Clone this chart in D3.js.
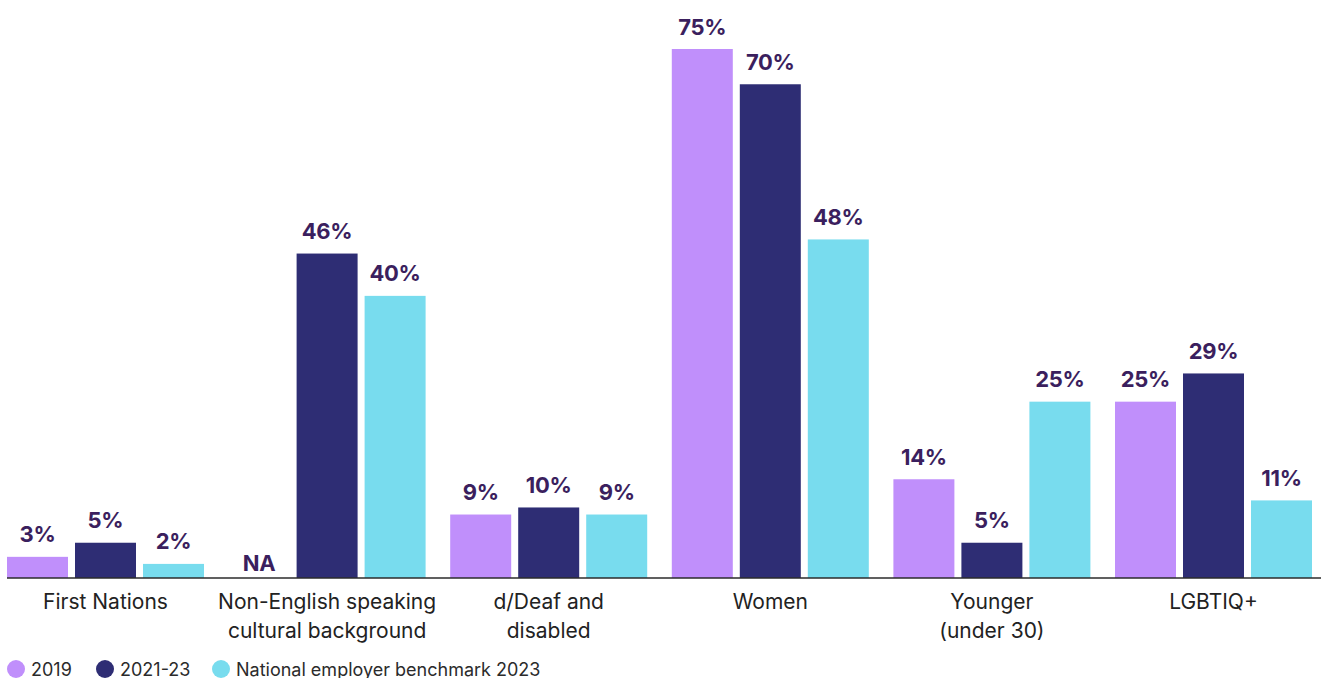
<!DOCTYPE html>
<html>
<head>
<meta charset="utf-8">
<script src="https://cdn.jsdelivr.net/npm/d3@7"></script>
<style>
  html, body { margin: 0; padding: 0; background: #fff; }
  svg { display: block; font-family: "Inter", "Lato", sans-serif; }
</style>
</head>
<body>
<svg id="chart" width="1321" height="678"></svg>
<script>
// Workforce diversity by group: share (%) per period
const categories = [
  ["First Nations"],
  ["Non-English speaking", "cultural background"],
  ["d/Deaf and", "disabled"],
  ["Women"],
  ["Younger", "(under 30)"],
  ["LGBTIQ+"]
];
const seriesNames = ["2019", "2021-23", "National employer benchmark 2023"];
const values2019 = [3, null, 9, 75, 14, 25];
const values2021 = [5, 46, 10, 70, 5, 29];
const valuesBenchmark = [2, 40, 9, 48, 25, 11];
const colors = ["#c08ffb", "#2e2d74", "#78dcee"];

const seriesValues = [values2019, values2021, valuesBenchmark];
const rows = categories.map((c, i) => ({
  key: c.join(" "),
  lines: c,
  vals: seriesValues.map((s, j) => ({ series: j, value: s[i] }))
}));

const svg = d3.select("#chart");
const baseline = 578;

const x0 = d3.scaleBand()
  .domain(rows.map(r => r.key))
  .range([7, 1312])
  .paddingInner(0.111)
  .paddingOuter(0);

const x1 = d3.scaleBand()
  .domain(d3.range(seriesNames.length))
  .range([0, x0.bandwidth()])
  .paddingInner(0.103)
  .paddingOuter(0);

const y = d3.scaleLinear().domain([0, 75]).range([baseline, 49]);

const groups = svg.append("g").selectAll("g")
  .data(rows)
  .join("g")
  .attr("transform", d => `translate(${x0(d.key)},0)`);

// Bars
groups.selectAll("rect")
  .data(d => d.vals.filter(v => v.value != null))
  .join("rect")
  .attr("x", v => x1(v.series))
  .attr("width", x1.bandwidth())
  .attr("y", v => y(v.value))
  .attr("height", v => baseline - y(v.value))
  .attr("fill", v => colors[v.series]);

// Value labels
groups.selectAll("text.val")
  .data(d => d.vals)
  .join("text")
  .attr("class", "val")
  .attr("x", v => x1(v.series) + x1.bandwidth() / 2)
  .attr("y", v => v.value == null ? baseline - 7 : y(v.value) - 14.5)
  .attr("text-anchor", "middle")
  .attr("font-size", 22)
  .attr("font-weight", 700)
  .attr("letter-spacing", "-0.3")
  .attr("fill", "#3b1f5e")
  .text(v => v.value == null ? "NA" : v.value + "%");

// Baseline axis
const xAxis = d3.axisBottom(x0).tickSize(0).tickFormat("");
const axisG = svg.append("g")
  .attr("transform", `translate(0,${baseline})`)
  .call(xAxis);
axisG.select(".domain").remove();
svg.append("line")
  .attr("x1", 7).attr("x2", 1321)
  .attr("y1", baseline).attr("y2", baseline)
  .attr("stroke", "#2b2b2b").attr("stroke-width", 1.5);

// Category labels
groups.append("text")
  .attr("x", x0.bandwidth() / 2)
  .attr("y", 609)
  .attr("text-anchor", "middle")
  .attr("font-size", 21)
  .attr("fill", "#222")
  .selectAll("tspan")
  .data(d => d.lines)
  .join("tspan")
  .attr("x", x0.bandwidth() / 2)
  .attr("dy", (l, i) => i === 0 ? 0 : 29)
  .text(l => l);

// Legend
const legendX = [16, 105, 221];
const legend = svg.append("g").selectAll("g")
  .data(seriesNames)
  .join("g")
  .attr("transform", (d, i) => `translate(${legendX[i]},669)`);
legend.append("circle").attr("r", 9).attr("fill", (d, i) => colors[i]);
legend.append("text")
  .attr("x", 15)
  .attr("y", 6.5)
  .attr("font-size", 18)
  .attr("fill", "#2b2b2b")
  .text(d => d);
</script>
</body>
</html>
